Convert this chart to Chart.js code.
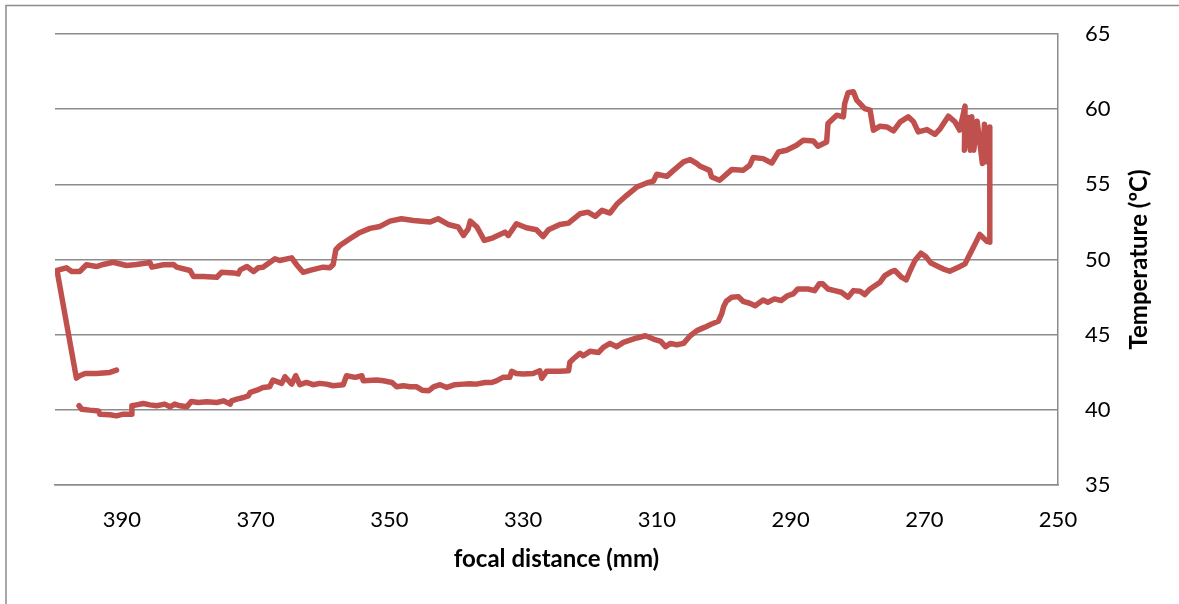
<!DOCTYPE html>
<html>
<head>
<meta charset="utf-8">
<title>Temperature vs focal distance</title>
<script src="https://cdn.jsdelivr.net/npm/chart.js@4.4.1/dist/chart.umd.min.js"></script>
<style>
  html, body { margin: 0; padding: 0; background: #ffffff; overflow: hidden; }
  #wrap { position: relative; width: 1179px; height: 604px; }
</style>
</head>
<body>
<div id="wrap"><canvas id="chart" width="1179" height="604"></canvas></div>
<script>
// Short initial run at ~42.5 ºC, moving away from the lens
const startDist = [390.8, 391.8, 393.8, 395.5, 396.3, 396.8];
const startTemp = [42.64, 42.49, 42.42, 42.42, 42.27, 42.11];

// Outward sweep from 400 mm down to 260 mm
const outDist = [
  399.7, 398.3, 397.5, 396.3, 395.3, 393.8, 392.8, 391.3, 389.3, 387.8,
  385.8, 385.5, 383.8, 382.3, 381.8, 379.8, 379.3, 377.8, 375.8, 375.1,
  373.3, 372.6, 372.3, 371.3, 370.3, 369.6, 368.9, 367.1, 366.4, 364.6,
  363.9, 362.9, 361.6, 359.9, 358.9, 358.4, 358.0, 357.4, 355.9, 354.4,
  352.9, 351.4, 349.9, 348.2, 346.4, 343.9, 342.7, 341.2, 339.7, 338.9,
  338.2, 337.9, 336.9, 335.8, 334.5, 332.7, 332.2, 331.0, 329.5, 328.0,
  327.0, 326.2, 324.5, 323.2, 322.7, 321.5, 320.3, 319.2, 318.2, 317.0,
  316.0, 314.5, 313.0, 311.5, 310.5, 310.0, 308.5, 307.5, 306.0, 305.0,
  304.0, 303.5, 302.1, 301.8, 300.6, 298.8, 297.1, 296.1, 295.6, 294.1,
  292.8, 291.8, 290.6, 289.1, 288.1, 286.6, 285.9, 284.6, 284.4, 283.1,
  282.1, 281.9, 281.4, 280.6, 280.1, 278.9, 278.1, 277.6, 276.6, 275.6,
  274.6, 273.6, 272.4, 271.6, 270.9, 269.6, 268.4, 267.6, 266.4, 265.4,
  264.7, 263.9, 264.0, 263.4, 263.1, 262.9, 262.6, 262.1, 261.3, 261.0,
  260.7, 260.2
];
const outTemp = [
  49.27, 49.45, 49.20, 49.20, 49.65, 49.53, 49.67, 49.82, 49.60, 49.67,
  49.80, 49.49, 49.65, 49.67, 49.49, 49.27, 48.87, 48.87, 48.82, 49.15,
  49.11, 49.04, 49.31, 49.53, 49.20, 49.45, 49.49, 50.05, 49.93, 50.11,
  49.67, 49.15, 49.31, 49.49, 49.45, 49.67, 50.65, 50.93, 51.38, 51.80,
  52.07, 52.20, 52.55, 52.71, 52.60, 52.49, 52.71, 52.33, 52.16, 51.60,
  52.04, 52.55, 52.16, 51.27, 51.44, 51.82, 51.60, 52.38, 52.11, 51.98,
  51.53, 51.98, 52.33, 52.42, 52.60, 53.04, 53.15, 52.87, 53.27, 53.09,
  53.67, 54.27, 54.82, 55.09, 55.22, 55.67, 55.53, 55.93, 56.49, 56.65,
  56.38, 56.20, 55.93, 55.49, 55.27, 55.98, 55.93, 56.27, 56.78, 56.71,
  56.42, 57.15, 57.27, 57.60, 57.93, 57.89, 57.53, 57.82, 59.04, 59.60,
  59.49, 60.38, 61.09, 61.16, 60.60, 60.04, 59.93, 58.60, 58.87, 58.82,
  58.56, 59.16, 59.49, 59.16, 58.49, 58.64, 58.33, 58.71, 59.53, 59.16,
  58.60, 60.20, 57.27, 59.44, 57.27, 59.50, 57.27, 59.20, 56.38, 59.00,
  56.50, 58.82
];

// Return sweep from 260 mm back towards 400 mm
const backDist = [
  260.2, 260.6, 261.7, 262.4, 262.9, 263.4, 263.9, 264.9, 266.2, 267.2,
  267.7, 269.0, 269.7, 270.5, 271.4, 272.1, 272.7, 273.4, 274.4, 274.9,
  275.9, 276.6, 278.1, 278.9, 279.6, 280.6, 281.4, 282.4, 283.4, 284.4,
  285.2, 285.7, 286.4, 287.4, 288.1, 288.9, 289.6, 290.4, 291.4, 292.4,
  293.4, 294.1, 295.3, 296.1, 297.1, 297.8, 298.8, 299.6, 300.0, 300.3,
  300.8, 301.8, 302.8, 304.0, 305.0, 306.0, 307.0, 308.0, 308.7, 309.4,
  310.5, 311.7, 313.0, 314.0, 315.0, 316.0, 317.0, 318.0, 318.7, 320.0,
  321.0, 321.5, 322.5, 323.0, 323.2, 324.5, 326.5, 327.2, 327.5, 328.5,
  330.0, 331.0, 331.7, 332.0, 333.0, 334.0, 334.7, 335.7, 337.0, 338.0,
  338.9, 340.2, 341.4, 342.4, 343.4, 344.1, 345.1, 345.9, 346.9, 347.9,
  348.9, 349.6, 350.9, 351.9, 353.9, 354.1, 355.1, 356.4, 356.9, 358.4,
  359.4, 360.4, 361.4, 362.4, 363.4, 364.0, 364.6, 365.6, 366.1, 367.4,
  367.9, 368.9, 369.8, 370.8, 371.1, 371.8, 372.8, 373.6, 373.8, 374.8,
  375.8, 377.3, 378.6, 379.6, 380.3, 381.3, 382.1, 382.8, 383.6, 384.8,
  385.8, 386.8, 387.8, 388.5, 388.5, 389.8, 390.8, 391.8, 393.3, 393.5,
  394.8, 396.0, 396.4
];
const backTemp = [
  51.15, 51.20, 51.67, 51.04, 50.60, 50.16, 49.71, 49.49, 49.22, 49.38,
  49.49, 49.76, 50.16, 50.42, 49.93, 49.27, 48.64, 48.82, 49.27, 49.20,
  48.93, 48.49, 48.04, 47.67, 47.89, 47.93, 47.49, 47.82, 47.93, 48.04,
  48.38, 48.38, 47.93, 48.04, 48.04, 48.04, 47.71, 47.60, 47.27, 47.38,
  47.16, 47.31, 46.93, 47.09, 47.22, 47.53, 47.49, 47.22, 46.87, 46.38,
  45.89, 45.71, 45.50, 45.27, 44.93, 44.42, 44.33, 44.42, 44.20, 44.55,
  44.71, 44.93, 44.78, 44.64, 44.49, 44.20, 44.42, 44.16, 43.82, 43.89,
  43.60, 43.76, 43.38, 43.16, 42.60, 42.56, 42.56, 42.10, 42.60, 42.42,
  42.38, 42.42, 42.56, 42.16, 42.16, 41.93, 41.82, 41.82, 41.71, 41.73,
  41.71, 41.67, 41.49, 41.67, 41.53, 41.27, 41.31, 41.53, 41.53, 41.60,
  41.53, 41.82, 41.93, 41.98, 41.93, 42.27, 42.16, 42.27, 41.67, 41.60,
  41.71, 41.76, 41.67, 41.82, 41.67, 42.27, 41.71, 42.20, 41.76, 41.98,
  41.53, 41.49, 41.31, 41.16, 40.93, 40.82, 40.71, 40.60, 40.38, 40.60,
  40.49, 40.53, 40.49, 40.56, 40.20, 40.27, 40.38, 40.20, 40.38, 40.27,
  40.33, 40.42, 40.33, 40.27, 39.71, 39.71, 39.60, 39.67, 39.71, 39.93,
  39.98, 40.04, 40.27
];

// Axis ticks
const xTickValues = [250, 270, 290, 310, 330, 350, 370, 390];
const yMin = 35, yMax = 65, yStep = 5;

const xTitle = 'focal distance (mm)';
const yTitle = 'Temperature (ºC)';

const dist = startDist.concat(outDist, backDist);
const temp = startTemp.concat(outTemp, backTemp);
const points = dist.map((d, i) => ({ x: d, y: temp[i] }));

const gridGrey = '#8c8c8c';
const lineRed = '#C0504D';

// Frame of the chart area plus the rotated value-axis title
const decorations = {
  id: 'decorations',
  beforeDraw(chart) {
    const ctx = chart.ctx;
    ctx.save();
    ctx.strokeStyle = gridGrey;
    ctx.lineWidth = 1.5;
    ctx.beginPath();
    ctx.moveTo(6, 604);
    ctx.lineTo(6, 5.5);
    ctx.lineTo(1179, 5.5);
    ctx.stroke();
    ctx.restore();
  },
  afterDraw(chart) {
    const ctx = chart.ctx;
    const area = chart.chartArea;
    ctx.save();
    ctx.fillStyle = '#000000';
    ctx.font = 'bold 24px Lato';
    ctx.textAlign = 'center';
    ctx.textBaseline = 'middle';
    ctx.translate(1139, (area.top + area.bottom) / 2);
    ctx.rotate(-Math.PI / 2);
    ctx.fillText(yTitle, 0, 0);
    ctx.restore();
  }
};

new Chart(document.getElementById('chart'), {
  type: 'scatter',
  data: {
    datasets: [{
      data: points,
      showLine: true,
      borderColor: lineRed,
      backgroundColor: lineRed,
      borderWidth: 5.5,
      borderJoinStyle: 'round',
      borderCapStyle: 'round',
      pointRadius: 0,
      pointHoverRadius: 0,
      tension: 0
    }]
  },
  options: {
    responsive: false,
    animation: false,
    events: [],
    layout: { padding: { left: 55, top: 34, right: 0, bottom: 0 } },
    plugins: {
      legend: { display: false },
      tooltip: { enabled: false }
    },
    scales: {
      x: {
        type: 'linear',
        position: 'bottom',
        reverse: true,
        min: 250,
        max: 400,
        afterBuildTicks(scale) {
          scale.ticks = xTickValues.map(v => ({ value: v }));
        },
        afterFit(scale) { scale.height = 119; },
        grid: { display: false, drawTicks: false },
        border: { display: true, color: gridGrey, width: 1.5 },
        ticks: {
          color: '#000000',
          font: { family: 'Lato', size: 22 },
          padding: 22,
          maxRotation: 0,
          autoSkip: false
        },
        title: {
          display: true,
          text: xTitle,
          color: '#000000',
          font: { family: 'Lato', size: 24, weight: 'bold' },
          padding: { top: 0, bottom: 30 }
        }
      },
      y: {
        type: 'linear',
        position: 'right',
        min: yMin,
        max: yMax,
        afterFit(scale) { scale.width = 121; },
        grid: {
          display: true,
          color: gridGrey,
          lineWidth: 1.5,
          drawTicks: true,
          tickLength: 22,
          tickColor: 'rgba(0,0,0,0)'
        },
        border: { display: true, color: gridGrey, width: 1.5 },
        ticks: {
          stepSize: yStep,
          color: '#000000',
          font: { family: 'Lato', size: 22 },
          padding: 5
        }
      }
    }
  },
  plugins: [decorations]
});
</script>
</body>
</html>
